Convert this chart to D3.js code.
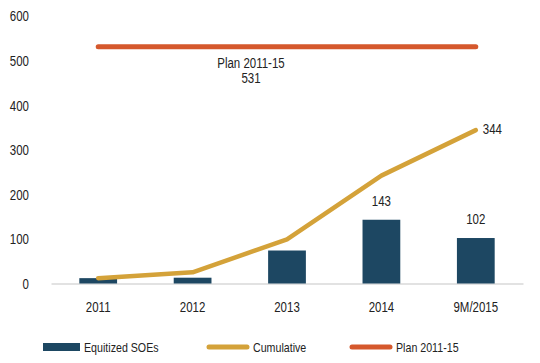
<!DOCTYPE html>
<html>
<head>
<meta charset="utf-8">
<script src="https://cdn.jsdelivr.net/npm/d3@7"></script>
<style>
    body { margin: 0; background: #fff; }
    svg text { font-family: "Liberation Sans", Arial, sans-serif; fill: #222; }
    /* Arial Narrow is not available: squeeze regular Liberation Sans */
    svg text.narrow { transform-box: fill-box; transform: scaleX(0.82); }
    svg text.o-start { transform-origin: left center; }
    svg text.o-mid { transform-origin: center center; }
    svg text.o-end { transform-origin: right center; }
</style>
</head>
<body>
<svg id="chart" width="540" height="363"></svg>
<script>
(function () {

    // chart data
    var years = ["2011", "2012", "2013", "2014", "9M/2015"];
    var equitized = [12, 13, 74, 143, 102];
    var cumulative = [12, 25, 99, 242, 344];
    var planValue = 531;
    var yTicks = [0, 100, 200, 300, 400, 500, 600];
    var legendNames = ["Equitized SOEs", "Cumulative", "Plan 2011-15"];

    var colors = {
        bar: "#1d4762",
        cum: "#d4a239",
        plan: "#d5582c",
        axis: "#d9d9d9"
    };

    var svg = d3.select("#chart");

    var x = d3.scaleBand()
        .domain(years)
        .range([51, 523])
        .paddingInner(0.6)
        .paddingOuter(0.3);

    var y = d3.scaleLinear()
        .domain([0, 600])
        .range([283.5, 16]);

    var center = function (d) { return x(d) + x.bandwidth() / 2; };

    // y tick labels (no axis line)
    var yAxis = d3.axisLeft(y).tickValues(yTicks).tickSize(0).tickPadding(0);
    svg.append("g")
        .attr("transform", "translate(29,0)")
        .call(yAxis)
        .call(function (g) { g.select(".domain").remove(); })
        .selectAll("text")
        .attr("class", "narrow o-end")
        .style("font-size", "14px")
        .attr("dy", "0.35em");

    // x axis
    var xAxis = d3.axisBottom(x).tickSize(0).tickPadding(19);
    svg.append("g")
        .attr("transform", "translate(0," + y(0) + ")")
        .call(xAxis)
        .call(function (g) {
            g.select(".domain").attr("stroke", colors.axis).attr("stroke-width", 1.5);
        })
        .selectAll("text")
        .attr("class", "narrow o-mid")
        .style("font-size", "14px");

    // bars
    svg.append("g").selectAll("rect")
        .data(equitized)
        .join("rect")
        .attr("x", function (d, i) { return x(years[i]); })
        .attr("y", function (d) { return y(d); })
        .attr("width", x.bandwidth())
        .attr("height", function (d) { return y(0) - y(d); })
        .attr("fill", colors.bar);

    // cumulative line
    var line = d3.line()
        .x(function (d, i) { return center(years[i]); })
        .y(function (d) { return y(d); });

    svg.append("path")
        .datum(cumulative)
        .attr("d", line)
        .attr("fill", "none")
        .attr("stroke", colors.cum)
        .attr("stroke-width", 4.5)
        .attr("stroke-linejoin", "round")
        .attr("stroke-linecap", "round");

    // plan line
    svg.append("line")
        .attr("x1", center(years[0]))
        .attr("x2", center(years[years.length - 1]))
        .attr("y1", y(planValue))
        .attr("y2", y(planValue))
        .attr("stroke", colors.plan)
        .attr("stroke-width", 5)
        .attr("stroke-linecap", "round");

    // value labels
    [3, 4].forEach(function (i) {
        svg.append("text")
            .attr("class", "narrow o-mid")
            .attr("x", center(years[i]))
            .attr("y", y(equitized[i]) - 14)
            .attr("text-anchor", "middle")
            .style("font-size", "14px")
            .text(equitized[i]);
    });

    var last = cumulative.length - 1;
    svg.append("text")
        .attr("class", "narrow o-start")
        .attr("x", center(years[last]) + 7)
        .attr("y", y(cumulative[last]) + 4)
        .style("font-size", "14px")
        .text(cumulative[last]);

    var planLabel = svg.append("text")
        .attr("class", "narrow o-mid")
        .attr("x", 251)
        .attr("y", y(planValue) + 21)
        .attr("text-anchor", "middle")
        .style("font-size", "14px");
    planLabel.append("tspan").attr("x", 251).text(legendNames[2]);
    planLabel.append("tspan").attr("x", 251).attr("dy", 15).text(planValue);

    // legend
    var legend = svg.append("g").attr("transform", "translate(0,347)");
    var legendX = [43, 207, 350];

    legend.append("rect")
        .attr("x", legendX[0]).attr("y", -4)
        .attr("width", 37).attr("height", 8)
        .attr("fill", colors.bar);

    legend.append("line")
        .attr("x1", legendX[1] + 2).attr("x2", legendX[1] + 40)
        .attr("y1", 0).attr("y2", 0)
        .attr("stroke", colors.cum).attr("stroke-width", 5)
        .attr("stroke-linecap", "round");

    legend.append("line")
        .attr("x1", legendX[2] + 2).attr("x2", legendX[2] + 40)
        .attr("y1", 0).attr("y2", 0)
        .attr("stroke", colors.plan).attr("stroke-width", 5)
        .attr("stroke-linecap", "round");

    legend.selectAll("text")
        .data(legendNames)
        .join("text")
        .attr("class", "narrow o-start")
        .attr("x", function (d, i) { return legendX[i] + 41 + (i === 0 ? 0 : 5); })
        .attr("y", 0)
        .attr("dy", "0.35em")
        .style("font-size", "13px")
        .text(function (d) { return d; });

})();
</script>
</body>
</html>
